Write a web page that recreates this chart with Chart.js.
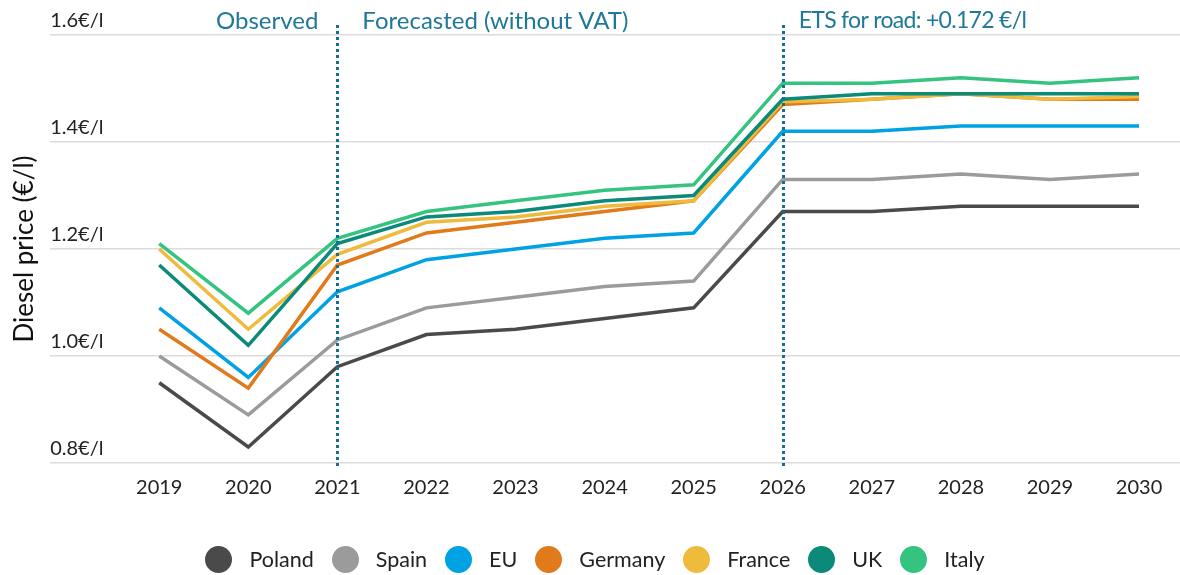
<!DOCTYPE html>
<html>
<head>
<meta charset="utf-8">
<script src="https://cdn.jsdelivr.net/npm/chart.js@4/dist/chart.umd.min.js"></script>
<style>
  html, body { margin: 0; padding: 0; background: #fff; }
  #wrap { width: 1180px; height: 575px; position: relative; }
  #lienzo { position: absolute; left: 0; top: 0; width: 1180px; height: 575px; }
  #leyenda {
    position: absolute; left: 0; top: 545px; width: 1180px; height: 28px;
    display: flex; justify-content: center; align-items: center;
    font-family: Lato, "Noto Sans", sans-serif; font-size: 21.5px; color: #222;
    padding-left: 10px; box-sizing: border-box;
  }
  .item { display: flex; align-items: center; margin-right: 18px; }
  .item:last-child { margin-right: 0; }
  .punto { width: 27px; height: 27px; border-radius: 50%; margin-right: 17px; }
</style>
</head>
<body>
<div id="wrap">
  <div id="lienzo"><canvas id="grafico"></canvas></div>
  <div id="leyenda"></div>
</div>
<script>
// --- Datos ---
const anios = [2019, 2020, 2021, 2022, 2023, 2024, 2025, 2026, 2027, 2028, 2029, 2030];

const poland  = [0.95, 0.83, 0.98, 1.04, 1.05, 1.07, 1.09, 1.27, 1.27, 1.28, 1.28, 1.28];
const spain   = [1.00, 0.89, 1.03, 1.09, 1.11, 1.13, 1.14, 1.33, 1.33, 1.34, 1.33, 1.34];
const eu      = [1.09, 0.96, 1.12, 1.18, 1.20, 1.22, 1.23, 1.42, 1.42, 1.43, 1.43, 1.43];
const germany = [1.05, 0.94, 1.17, 1.23, 1.25, 1.27, 1.29, 1.47, 1.48, 1.49, 1.48, 1.48];
const france  = [1.20, 1.05, 1.19, 1.25, 1.26, 1.28, 1.29, 1.475, 1.48, 1.49, 1.48, 1.485];
const uk      = [1.17, 1.02, 1.21, 1.26, 1.27, 1.29, 1.30, 1.48, 1.49, 1.49, 1.49, 1.49];
const italy   = [1.21, 1.08, 1.22, 1.27, 1.29, 1.31, 1.32, 1.51, 1.51, 1.52, 1.51, 1.52];

const paises = ["Poland", "Spain", "EU", "Germany", "France", "UK", "Italy"];
const series = [poland, spain, eu, germany, france, uk, italy];
const colores = ["#4a4a4a", "#9b9b9b", "#00a2e3", "#e07a1a", "#efbb3d", "#0b8a79", "#35c47f"];

const ticksY = [0.8, 1.0, 1.2, 1.4, 1.6];

// Marcas verticales y sus textos
const marcas = [2021, 2026];
const notas = [
  { x: 2021, texto: "Observed", lado: "right", dx: 19, tam: 24, esp: 0 },
  { x: 2021, texto: "Forecasted (without VAT)", lado: "left", dx: 25, tam: 24, esp: 0 },
  { x: 2026, texto: "ETS for road: +0.172 €/l", lado: "left", dx: 16, tam: 23, esp: -0.7 }
];

const FUENTE = "Lato, 'Noto Sans', sans-serif";
const AZUL_NOTA = "#1f7898";

// --- Plugin: etiquetas del eje Y sobre la rejilla, líneas punteadas y textos ---
const pluginMarcas = {
  id: "marcas",
  afterDatasetsDraw(chart) {
    const ctx = chart.ctx;
    const xs = chart.scales.x;
    const ys = chart.scales.y;
    ctx.save();

    // etiquetas del eje Y, encima de cada línea de rejilla
    ctx.fillStyle = "#222";
    ctx.font = "20px " + FUENTE;
    ctx.textAlign = "left";
    ctx.textBaseline = "middle";
    ticksY.forEach(v => {
      ctx.fillText(v.toFixed(1) + "€/l", chart.chartArea.left, ys.getPixelForValue(v) - 14);
    });

    ctx.strokeStyle = "#15708f";
    ctx.lineWidth = 3;
    ctx.setLineDash([3, 3]);
    marcas.forEach(m => {
      const px = Math.round(xs.getPixelForValue(m)) + 0.5;
      ctx.beginPath();
      ctx.moveTo(px, 25);
      ctx.lineTo(px, chart.chartArea.bottom + 3);
      ctx.stroke();
    });
    ctx.setLineDash([]);
    ctx.fillStyle = AZUL_NOTA;
    notas.forEach(n => {
      const px = xs.getPixelForValue(n.x);
      ctx.font = n.tam + "px " + FUENTE;
      ctx.letterSpacing = n.esp + "px";
      if (n.lado === "right") {
        ctx.textAlign = "right";
        ctx.fillText(n.texto, px - n.dx, 21);
      } else {
        ctx.textAlign = "left";
        ctx.fillText(n.texto, px + n.dx, 21);
      }
    });
    ctx.restore();
  }
};

const datasets = paises.map((p, i) => ({
  label: p,
  data: anios.map((a, j) => ({ x: a, y: series[i][j] })),
  borderColor: colores[i],
  backgroundColor: colores[i],
  borderWidth: 3.5,
  pointRadius: 0,
  tension: 0,
  order: paises.length - i
}));

new Chart(document.getElementById("grafico"), {
  type: "line",
  data: { datasets },
  plugins: [pluginMarcas],
  options: {
    responsive: true,
    maintainAspectRatio: false,
    animation: false,
    layout: { padding: { top: 35, right: 0, bottom: 62, left: 0 } },
    scales: {
      x: {
        type: "linear",
        min: 2017.776,
        max: 2030.46,
        afterBuildTicks: s => { s.ticks = anios.map(v => ({ value: v })); },
        grid: { display: false, drawTicks: false },
        border: { display: false },
        ticks: {
          callback: v => String(v),
          color: "#222",
          font: { size: 20, family: FUENTE },
          padding: 13,
          maxRotation: 0,
          autoSkip: false
        }
      },
      y: {
        min: 0.8,
        max: 1.6,
        afterBuildTicks: s => { s.ticks = ticksY.map(v => ({ value: v })); },
        grid: { color: "#dcdcdc", lineWidth: 1.5, drawTicks: false },
        border: { display: false },
        ticks: { display: false },
        title: {
          display: true,
          text: "Diesel price (€/l)",
          color: "#111",
          font: { size: 26, family: FUENTE },
          padding: { top: 9, bottom: 10 }
        }
      }
    },
    plugins: {
      tooltip: { enabled: false },
      legend: { display: false }
    }
  }
});

// --- Leyenda ---
const leyenda = document.getElementById("leyenda");
paises.forEach((p, i) => {
  const item = document.createElement("div");
  item.className = "item";
  item.innerHTML = `<span class="punto" style="background:${colores[i]}"></span><span>${p}</span>`;
  leyenda.appendChild(item);
});
</script>
</body>
</html>
